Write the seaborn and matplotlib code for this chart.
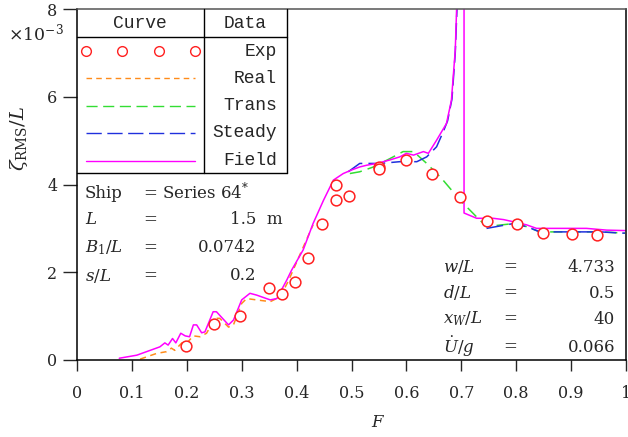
import numpy as np
import pandas as pd
import matplotlib
matplotlib.use("Agg")
import matplotlib.pyplot as plt
import seaborn as sns

# ---------------- data (zeta_RMS/L in units of 1e-3) ----------------
exp_F = [0.199, 0.249, 0.297, 0.349, 0.373, 0.397, 0.420, 0.447, 0.472, 0.472,
         0.496, 0.551, 0.551, 0.599, 0.647, 0.698, 0.746, 0.801, 0.849, 0.901, 0.947]
exp_z = [0.32, 0.81, 1.00, 1.65, 1.50, 1.77, 2.32, 3.11, 4.00, 3.64,
         3.74, 4.40, 4.35, 4.56, 4.23, 3.71, 3.17, 3.11, 2.90, 2.87, 2.86]

real_F = [0.115, 0.145, 0.163, 0.172, 0.178, 0.191, 0.198, 0.212, 0.224, 0.236,
          0.251, 0.260, 0.276, 0.285, 0.300, 0.309, 0.327, 0.352, 0.370, 0.385,
          0.406, 0.430]
real_z = [0.02, 0.15, 0.19, 0.27, 0.22, 0.39, 0.36, 0.55, 0.53, 0.61,
          0.95, 0.95, 0.75, 0.80, 1.29, 1.40, 1.37, 1.33, 1.44, 1.80,
          2.40, 3.08]

field_F = [0.077, 0.109, 0.151, 0.160, 0.166, 0.174, 0.180, 0.189, 0.197, 0.205,
           0.212, 0.218, 0.227, 0.233, 0.248, 0.254, 0.276, 0.285, 0.300, 0.315,
           0.327, 0.352, 0.364, 0.382, 0.391, 0.412, 0.430, 0.449, 0.467, 0.485,
           0.500, 0.515, 0.528, 0.546, 0.570, 0.588, 0.600, 0.613, 0.631, 0.640,
           0.655, 0.673, 0.682, 0.689, 0.693, 0.700, 0.705, 0.705, 0.728, 0.758,
           0.777, 0.795, 0.819, 0.837, 0.880, 0.928, 0.965, 0.998]
field_z = [0.04, 0.11, 0.30, 0.39, 0.34, 0.49, 0.39, 0.61, 0.55, 0.53,
           0.80, 0.80, 0.62, 0.64, 1.10, 1.10, 0.80, 0.91, 1.37, 1.52,
           1.48, 1.37, 1.40, 1.82, 2.05, 2.51, 3.11, 3.64, 4.10, 4.25,
           4.33, 4.40, 4.44, 4.48, 4.56, 4.63, 4.71, 4.67, 4.75, 4.71,
           5.01, 5.39, 5.92, 7.06, 8.60, 40.0, 40.0, 3.35, 3.23, 3.23,
           3.20, 3.15, 3.08, 3.00, 3.00, 3.00, 2.96, 2.95]

steady_F = [0.494, 0.515, 0.552, 0.588, 0.619, 0.637, 0.655, 0.667, 0.675, 0.683,
            0.689, 0.694, 0.700, np.nan, 0.746, 0.795, 0.819, 0.843, 0.898, 0.953, 0.998]
steady_z = [4.29, 4.48, 4.48, 4.52, 4.52, 4.63, 4.86, 5.20, 5.45, 5.95,
            7.00, 8.60, 40.0, np.nan, 3.00, 3.11, 3.04, 2.92, 2.92, 2.92, 2.89]

trans_F = [0.497, 0.515, 0.540, 0.570, 0.594, 0.613, 0.637, 0.664, 0.698, 0.728,
           0.746, 0.795, 0.819, 0.843, 0.898, 0.953, 0.998]
trans_z = [4.25, 4.29, 4.40, 4.59, 4.75, 4.75, 4.48, 4.14, 3.64, 3.26,
           3.04, 3.11, 3.04, 2.92, 2.92, 2.92, 2.89]

x_ticks = [0, 0.1, 0.2, 0.3, 0.4, 0.5, 0.6, 0.7, 0.8, 0.9, 1]
x_ticklabels = ["0", "0.1", "0.2", "0.3", "0.4", "0.5", "0.6", "0.7", "0.8", "0.9", "1"]
y_ticks = [0, 2, 4, 6, 8]

legend_names = ["Exp", "Real", "Trans", "Steady", "Field"]
params_left = [("Ship", "= Series 64$^{*}$"), ("$L$", "="), ("$B_1/L$", "="), ("$s/L$", "=")]
params_left_vals = ["", "1.5  m", "0.0742", "0.2"]
params_right = [("$w/L$", "4.733"), ("$d/L$", "0.5"), ("$x_W/L$", "40"), ("$\\dot{U}/g$", "0.066")]

# ---------------- style ----------------
sns.set_theme(style="ticks")
plt.rcParams["font.family"] = ["DejaVu Serif"]
plt.rcParams["mathtext.fontset"] = "dejavuserif"

c_exp = "#FF2020"
c_real = "#FF8C1A"
c_trans = "#33DD33"
c_steady = "#2030DD"
c_field = "#FF00FF"
d_real = (4, 3)
d_trans = (8, 4)
d_steady = (11, 4)

fig = plt.figure(figsize=(6.28, 4.37), dpi=100)
ax = fig.add_axes([77 / 628, (437 - 360) / 437, 549 / 628, 351 / 437])

sns.lineplot(x=real_F, y=real_z, ax=ax, color=c_real, lw=1.1,
             estimator=None, sort=False).lines[-1].set_dashes(d_real)
sns.lineplot(x=trans_F, y=trans_z, ax=ax, color=c_trans, lw=1.1,
             estimator=None, sort=False).lines[-1].set_dashes(d_trans)
ax.plot(steady_F, steady_z, color=c_steady, lw=1.1, dashes=d_steady)
sns.lineplot(x=field_F, y=field_z, ax=ax, color=c_field, lw=1.1,
             estimator=None, sort=False)
sns.scatterplot(x=exp_F, y=exp_z, ax=ax, marker="o", s=60, facecolor="white",
                edgecolor=c_exp, linewidth=1.1, zorder=5)

ax.set_xlim(0, 1)
ax.set_ylim(0, 8)
ax.set_xticks(x_ticks)
ax.set_xticklabels(x_ticklabels)
ax.set_yticks(y_ticks)
ax.tick_params(axis="x", direction="out", length=8, width=1.0, pad=10, labelsize=11.5)
ax.tick_params(axis="y", direction="out", length=10, width=1.0, pad=4, labelsize=11.5)
for s in ax.spines.values():
    s.set_linewidth(1.1)
    s.set_color("black")
ax.spines["top"].set_color("#555555")

ax.set_xlabel("$F$", fontsize=12)
ax.xaxis.set_label_coords(0.548, -0.155)
ax.set_ylabel("$\\zeta_{\\mathrm{RMS}}/L$", fontsize=14)
ax.yaxis.set_label_coords(-0.085, 0.63)
fig.text(8 / 628, 1 - 33 / 437, "$\\times10^{-3}$", fontsize=12.5, va="center", ha="left")

# ---------------- legend table ----------------
T = ax.transAxes
bx0, bx1, by0, by1 = 0.0, 0.3825, 0.533, 1.0
xdiv, yhead = 0.231, 0.920
for xs, ys in [([bx0, bx1], [by0, by0]), ([bx1, bx1], [by0, by1]),
               ([bx0, bx1], [yhead, yhead]), ([xdiv, xdiv], [by0, by1])]:
    ax.plot(xs, ys, transform=T, color="black", lw=1.0, clip_on=False, zorder=6)
ax.text(0.115, 0.960, "Curve", transform=T, ha="center", va="center",
        family="Liberation Mono", fontsize=13)
ax.text(0.306, 0.960, "Data", transform=T, ha="center", va="center",
        family="Liberation Mono", fontsize=13)
rows_y = [0.880, 0.803, 0.724, 0.647, 0.567]
for name, yy in zip(legend_names, rows_y):
    ax.text(0.364, yy, name, transform=T, ha="right", va="center",
            family="Liberation Mono", fontsize=13)
ax.plot([0.016, 0.082, 0.149, 0.215], [rows_y[0]] * 4, transform=T, ls="none",
        marker="o", ms=7, mfc="white", mec=c_exp, mew=1.0)
ax.plot([0.016, 0.215], [rows_y[1]] * 2, transform=T, color=c_real, lw=1.0, dashes=d_real)
ax.plot([0.016, 0.215], [rows_y[2]] * 2, transform=T, color=c_trans, lw=1.0, dashes=d_trans)
ax.plot([0.016, 0.215], [rows_y[3]] * 2, transform=T, color=c_steady, lw=1.0, dashes=d_steady)
ax.plot([0.016, 0.215], [rows_y[4]] * 2, transform=T, color=c_field, lw=1.0)

# ---------------- parameter text ----------------
def fx(px):
    return (px - 77) / 549

def fy(py):
    return (360 - py) / 351

pl_y = [193, 220, 248, 276]
for (lab, eq), val, py in zip(params_left, params_left_vals, pl_y):
    ax.text(fx(85), fy(py), lab, transform=T, ha="left", va="center", fontsize=12)
    ax.text(fx(143), fy(py), eq, transform=T, ha="left", va="center", fontsize=12)
    if val:
        xr = 283 if "m" in val else 256
        ax.text(fx(xr), fy(py), val, transform=T, ha="right", va="center", fontsize=12)

pr_y = [267, 293, 319, 347]
for (lab, val), py in zip(params_right, pr_y):
    ax.text(fx(443), fy(py), lab, transform=T, ha="left", va="center", fontsize=12)
    ax.text(fx(503), fy(py), "=", transform=T, ha="left", va="center", fontsize=12)
    ax.text(fx(615), fy(py), val, transform=T, ha="right", va="center", fontsize=12)

fig.savefig("out.png", dpi=100)
